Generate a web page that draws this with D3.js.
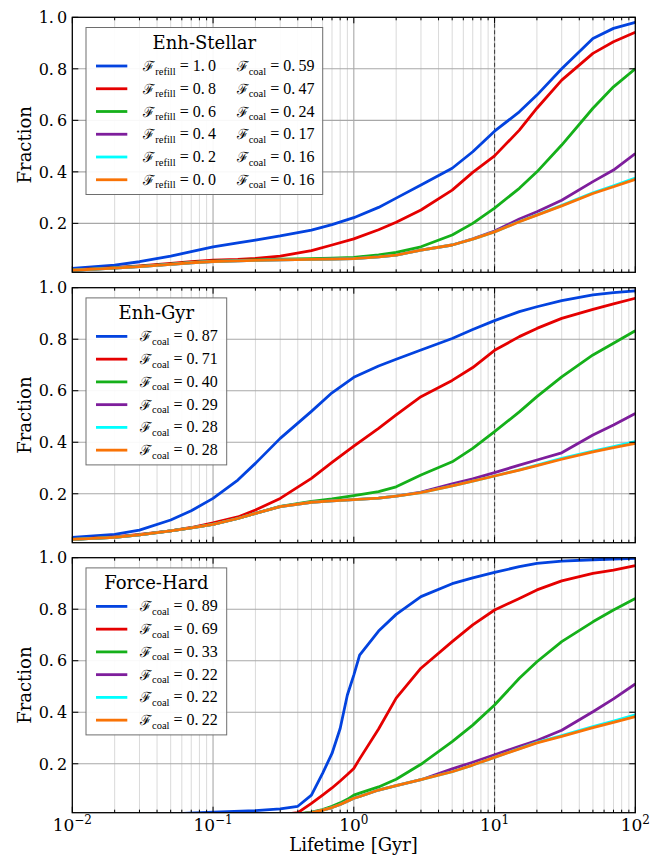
<!DOCTYPE html>
<html><head><meta charset="utf-8">
<script src="https://cdn.jsdelivr.net/npm/d3@7"></script>
<style>body{margin:0;background:#fff}</style>
</head><body>
<svg id="c" width="663" height="856"></svg>
<script>
// ---------- DATA ----------
const xGridA = [0.01,0.02,0.03,0.05,0.07,0.1,0.15,0.2,0.3,0.5,0.7,1,1.5,2,3,5,7,10,15,20,30,50,70,100];
const xGridB = [0.01,0.05,0.1,0.2,0.3,0.4,0.5,0.6,0.7,0.8,0.9,1,1.1,1.5,2,3,5,7,10,15,20,30,50,70,100];

const seriesColors = ["#0343df","#e50000","#15b01a","#7e1e9c","#00ffff","#f97306"];
const yTicks = [0.2,0.4,0.6,0.8,1.0];
const xTicks = [0.01,0.1,1,10,100];
const xTickExps = ["\u22122","\u22121","0","1","2"];
const panelTitles = ["Enh-Stellar","Enh-Gyr","Force-Hard"];

// Panel 1: Enh-Stellar
const stellarBlue   = [0.025,0.038,0.051,0.073,0.090,0.109,0.124,0.135,0.151,0.174,0.195,0.222,0.262,0.298,0.349,0.414,0.478,0.558,0.633,0.698,0.800,0.918,0.957,0.980];
const stellarRed    = [0.019,0.028,0.035,0.045,0.051,0.057,0.060,0.064,0.073,0.094,0.116,0.140,0.175,0.204,0.252,0.329,0.398,0.462,0.562,0.647,0.756,0.860,0.905,0.942];
const stellarGreen  = [0.018,0.027,0.033,0.042,0.048,0.053,0.056,0.058,0.061,0.063,0.065,0.068,0.078,0.087,0.109,0.155,0.200,0.259,0.336,0.400,0.504,0.647,0.730,0.800];
const stellarPurple = [0.018,0.026,0.032,0.041,0.047,0.052,0.054,0.056,0.058,0.060,0.061,0.063,0.070,0.077,0.096,0.116,0.140,0.170,0.217,0.245,0.290,0.362,0.407,0.471];
const stellarCyan   = [0.018,0.026,0.032,0.041,0.047,0.052,0.054,0.056,0.058,0.060,0.061,0.063,0.070,0.077,0.096,0.116,0.139,0.167,0.207,0.233,0.270,0.319,0.346,0.376];
const stellarOrange = [0.018,0.026,0.032,0.041,0.047,0.052,0.054,0.056,0.058,0.060,0.061,0.063,0.070,0.077,0.096,0.116,0.139,0.167,0.206,0.232,0.268,0.316,0.342,0.371];

// Panel 2: Enh-Gyr
const gyrBlue   = [0.031,0.042,0.059,0.098,0.134,0.182,0.253,0.318,0.415,0.520,0.592,0.652,0.696,0.722,0.758,0.803,0.838,0.872,0.907,0.926,0.950,0.972,0.981,0.988];
const gyrRed    = [0.023,0.033,0.042,0.056,0.069,0.087,0.110,0.137,0.182,0.260,0.322,0.385,0.454,0.506,0.577,0.640,0.690,0.757,0.810,0.842,0.881,0.916,0.937,0.959];
const gyrGreen  = [0.023,0.031,0.040,0.056,0.068,0.081,0.104,0.124,0.151,0.170,0.180,0.193,0.208,0.227,0.273,0.324,0.376,0.441,0.518,0.577,0.654,0.739,0.784,0.833];
const gyrPurple = [0.023,0.031,0.040,0.056,0.068,0.081,0.104,0.124,0.150,0.167,0.172,0.177,0.183,0.191,0.206,0.238,0.258,0.282,0.311,0.331,0.359,0.428,0.467,0.512];
const gyrCyan   = [0.023,0.031,0.040,0.056,0.068,0.081,0.104,0.124,0.150,0.167,0.172,0.177,0.183,0.191,0.204,0.231,0.249,0.269,0.293,0.311,0.337,0.366,0.383,0.402];
const gyrOrange = [0.023,0.031,0.040,0.056,0.068,0.081,0.104,0.124,0.150,0.167,0.172,0.177,0.183,0.191,0.204,0.231,0.249,0.269,0.292,0.309,0.334,0.363,0.379,0.396];

// Panel 3: Force-Hard (x grid B)
const hardBlue   = [0.000,0.005,0.012,0.018,0.025,0.035,0.078,0.163,0.240,0.337,0.467,0.544,0.622,0.715,0.780,0.849,0.899,0.922,0.943,0.965,0.978,0.987,0.992,0.995,0.997];
const hardRed    = [0.000,0.000,0.000,0.000,0.002,0.010,0.046,0.078,0.106,0.133,0.158,0.182,0.219,0.335,0.455,0.571,0.674,0.739,0.797,0.842,0.875,0.910,0.939,0.952,0.969];
const hardGreen  = [0.000,0.000,0.000,0.000,0.000,0.005,0.012,0.022,0.035,0.048,0.062,0.078,0.086,0.110,0.140,0.198,0.286,0.350,0.428,0.532,0.596,0.674,0.751,0.797,0.842];
const hardPurple = [0.000,0.000,0.000,0.000,0.000,0.004,0.010,0.020,0.030,0.042,0.055,0.066,0.073,0.098,0.115,0.138,0.180,0.206,0.235,0.268,0.290,0.330,0.402,0.452,0.510];
const hardCyan   = [0.000,0.000,0.000,0.000,0.000,0.004,0.010,0.020,0.030,0.042,0.055,0.066,0.073,0.098,0.115,0.138,0.169,0.195,0.225,0.259,0.283,0.309,0.344,0.366,0.390];
const hardOrange = [0.000,0.000,0.000,0.000,0.000,0.004,0.010,0.020,0.030,0.042,0.055,0.066,0.073,0.098,0.115,0.138,0.169,0.195,0.225,0.258,0.281,0.306,0.340,0.361,0.383];

const stellarRefill = ["1.0","0.8","0.6","0.4","0.2","0.0"];
const stellarCoal   = ["0.59","0.47","0.24","0.17","0.16","0.16"];
const gyrCoal       = ["0.87","0.71","0.40","0.29","0.28","0.28"];
const hardCoal      = ["0.89","0.69","0.33","0.22","0.22","0.22"];

// ---------- LAYOUT ----------
const svg = d3.select("#c");
const serif = "'DejaVu Serif', serif";
const mathFont = "'Liberation Serif', 'DejaVu Serif', serif";
const L = 72.3, R = 635.3, PH = 255, yMin = 0.01;
const panelTops = [17.3, 287.7, 557.7];
const x = d3.scaleLog().domain([0.01, 100]).range([L, R]);

const panels = [
  {x: xGridA, series: [stellarBlue, stellarRed, stellarGreen, stellarPurple, stellarCyan, stellarOrange]},
  {x: xGridA, series: [gyrBlue, gyrRed, gyrGreen, gyrPurple, gyrCyan, gyrOrange]},
  {x: xGridB, series: [hardBlue, hardRed, hardGreen, hardPurple, hardCyan, hardOrange]}
];

const minorX = [];
for (let e = -2; e < 2; e++) for (let k = 2; k <= 9; k++) minorX.push(k * Math.pow(10, e));

function fmt1(v){ const s = d3.format(".1f")(v); return s.replace(".", ".\u2009"); }
function fmtS(s){ return s.replace(".", ".\u2009"); }

panels.forEach((p, pi) => {
  const T = panelTops[pi];
  const y = d3.scaleLinear().domain([yMin, 1]).range([T + PH, T]);
  const g = svg.append("g");

  const clipId = "clip" + pi;
  svg.append("clipPath").attr("id", clipId).append("rect")
    .attr("x", L).attr("y", T).attr("width", R - L).attr("height", PH);

  // minor vertical grid
  g.selectAll(".mg").data(minorX).enter().append("line")
    .attr("x1", d => x(d)).attr("x2", d => x(d)).attr("y1", T).attr("y2", T + PH)
    .attr("stroke", "#dadada").attr("stroke-width", 1);
  // major vertical grid
  g.selectAll(".Mg").data([0.1, 1, 10]).enter().append("line")
    .attr("x1", d => x(d)).attr("x2", d => x(d)).attr("y1", T).attr("y2", T + PH)
    .attr("stroke", "#b0b0b0").attr("stroke-width", 1.2);
  // horizontal grid
  g.selectAll(".hg").data([0.2, 0.4, 0.6, 0.8]).enter().append("line")
    .attr("x1", L).attr("x2", R).attr("y1", d => y(d)).attr("y2", d => y(d))
    .attr("stroke", "#a8a8a8").attr("stroke-width", 1.1);

  // dashed line at 10 Gyr
  g.append("line").attr("x1", x(10)).attr("x2", x(10)).attr("y1", T).attr("y2", T + PH)
    .attr("stroke", "#444").attr("stroke-width", 1.1).attr("stroke-dasharray", "4,2.5");

  // curves
  const line = d3.line().x(d => x(d[0])).y(d => y(d[1]));
  const cg = g.append("g").attr("clip-path", `url(#${clipId})`);
  p.series.forEach((s, si) => {
    const pts = p.x.map((xv, i) => [xv, s[i]]);
    cg.append("path").attr("d", line(pts)).attr("fill", "none")
      .attr("stroke", seriesColors[si]).attr("stroke-width", 2.8)
      .attr("stroke-linejoin", "round");
  });

  // ticks (inward, all sides)
  const tk = g.append("g").attr("stroke", "#000").attr("stroke-width", 1);
  xTicks.forEach(v => {
    tk.append("line").attr("x1", x(v)).attr("x2", x(v)).attr("y1", T + PH).attr("y2", T + PH - 6);
    tk.append("line").attr("x1", x(v)).attr("x2", x(v)).attr("y1", T).attr("y2", T + 6);
  });
  minorX.forEach(v => {
    tk.append("line").attr("x1", x(v)).attr("x2", x(v)).attr("y1", T + PH).attr("y2", T + PH - 3);
    tk.append("line").attr("x1", x(v)).attr("x2", x(v)).attr("y1", T).attr("y2", T + 3);
  });
  yTicks.forEach(v => {
    tk.append("line").attr("x1", L).attr("x2", L + 6).attr("y1", y(v)).attr("y2", y(v));
    tk.append("line").attr("x1", R).attr("x2", R - 6).attr("y1", y(v)).attr("y2", y(v));
  });

  // frame
  g.append("rect").attr("x", L).attr("y", T).attr("width", R - L).attr("height", PH)
    .attr("fill", "none").attr("stroke", "#000").attr("stroke-width", 1.3);

  // y tick labels
  g.selectAll(".yl").data(yTicks).enter().append("text")
    .attr("x", L - 5).attr("y", d => y(d)).attr("dy", "0.36em")
    .attr("text-anchor", "end").attr("font-family", serif).attr("font-size", 16)
    .text(d => fmt1(d));

  // y label
  g.append("text").attr("transform", `translate(30.5,${T + PH / 2}) rotate(-90)`)
    .attr("text-anchor", "middle").attr("font-family", serif).attr("font-size", 18)
    .text("Fraction");

  // legend
  const lg = g.append("g");
  const boxW = pi === 0 ? 236.7 : 140.7;
  const boxTop = T + 10.2;
  lg.append("rect").attr("x", 86).attr("y", boxTop).attr("width", boxW).attr("height", 167)
    .attr("fill", "#fff").attr("fill-opacity", 0.92).attr("stroke", "#6e6e6e").attr("stroke-width", 1);
  lg.append("text").attr("x", 86 + boxW / 2).attr("y", boxTop + 21)
    .attr("text-anchor", "middle").attr("font-family", serif).attr("font-size", 18)
    .text(panelTitles[pi]);
  const coal = [stellarCoal, gyrCoal, hardCoal][pi];
  seriesColors.forEach((c, si) => {
    const ry = boxTop + 38.5 + si * 22.75;
    lg.append("line").attr("x1", 96).attr("x2", 127.3).attr("y1", ry).attr("y2", ry)
      .attr("stroke", c).attr("stroke-width", 2.8);
    const addMath = (tx, sub, val) => {
      const t = lg.append("text").attr("x", tx).attr("y", ry + 5)
        .attr("font-family", mathFont).attr("font-size", 16);
      t.append("tspan").attr("font-family", serif).attr("font-size", 14).text("\u2131");
      t.append("tspan").attr("font-size", 10.5).attr("dy", 3.5).text(sub);
      t.append("tspan").attr("dy", -3.5).text(" = " + fmtS(val));
    };
    if (pi === 0) {
      addMath(143.3, "refill", stellarRefill[si]);
      addMath(236.7, "coal", coal[si]);
    } else {
      addMath(140, "coal", coal[si]);
    }
  });

  // x tick labels (bottom panel only)
  if (pi === 2) {
    xTicks.forEach((v, i) => {
      const t = g.append("text").attr("x", x(v)).attr("y", T + PH + 18)
        .attr("text-anchor", "middle").attr("font-family", serif).attr("font-size", 17);
      t.append("tspan").text("10");
      t.append("tspan").attr("font-size", 12).attr("dy", -7).text(xTickExps[i]);
    });
    g.append("text").attr("x", 353.5).attr("y", 851)
      .attr("text-anchor", "middle").attr("font-family", serif).attr("font-size", 18)
      .text("Lifetime [Gyr]");
  }
});
</script>
</body></html>
